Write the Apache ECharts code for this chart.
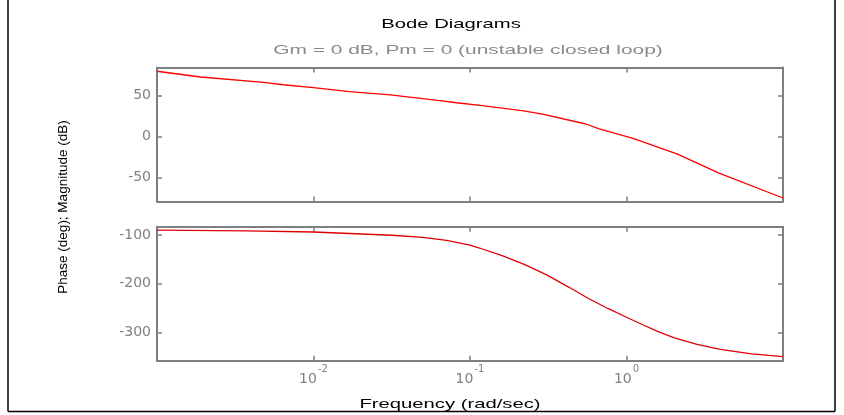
<!DOCTYPE html>
<html>
<head>
<meta charset="utf-8">
<script src="https://cdn.jsdelivr.net/npm/echarts@6/dist/echarts.min.js"></script>
<style>
html,body{margin:0;padding:0;background:#fff;}
#chart{width:844px;height:415px;}
</style>
</head>
<body>
<div id="chart"></div>
<script>
// Magnitude (dB) vs frequency (rad/sec)
const freqMag = [0.001, 0.0019, 0.0048, 0.0064, 0.01, 0.017, 0.031, 0.064, 0.082, 0.12, 0.22, 0.29, 0.55, 0.67, 1.1, 2.1, 3.9, 10];
const magDb   = [80, 73, 66.5, 63.5, 60, 55, 51, 44, 41.5, 38, 31.5, 27.5, 15.5, 9.5, -2, -21, -44.5, -75];
// Phase (deg) vs frequency (rad/sec)
const freqPhase = [0.001, 0.0037, 0.01, 0.0316, 0.05, 0.0708, 0.1, 0.115, 0.162, 0.224, 0.309, 0.427, 0.575, 0.759, 1.0, 1.26, 1.58, 2.0, 2.82, 3.98, 6.31, 10];
const phaseDeg  = [-90, -91.5, -93.8, -100.5, -104.8, -111, -121, -126.7, -143, -161, -182, -207, -231, -251, -269, -284, -298, -311, -325, -335, -344.5, -350];
// Tick values
const magTicks = [-50, 0, 50];
const phaseTicks = [-300, -200, -100];
const freqRange = [0.001, 10];
const magRange = [-79.3, 84.6];
const phaseRange = [-358.4, -82.9];

const titleText = 'Bode Diagrams';
const subtitleText = 'Gm = 0 dB, Pm = 0 (unstable closed loop)';
const xName = 'Frequency (rad/sec)';
const yName = 'Phase (deg); Magnitude (dB)';

const AX = '#7f7f7f';
const LBL = '#808080';

function xAxisDef(gridIndex, position, showLabels) {
  return {
    type: 'log', logBase: 10, gridIndex, position,
    min: freqRange[0], max: freqRange[1],
    axisLine: { show: true, onZero: false, lineStyle: { color: AX, width: 2 } },
    axisTick: { show: true, inside: true, length: 5, lineStyle: { color: AX, width: 1.5 } },
    minorTick: { show: false },
    splitLine: { show: false },
    axisLabel: showLabels ? {
      show: true, margin: 4, showMinLabel: false, showMaxLabel: false,
      formatter: function (v) {
        const e = Math.round(Math.log10(v));
        if (e <= -3 || e >= 1) return '';
        return '{b|10}{s|' + e + '}';
      },
      rich: {
        b: { fontSize: 14, fontFamily: 'DejaVu Sans', color: LBL, lineHeight: 22, verticalAlign: 'bottom' },
        s: { fontSize: 10, fontFamily: 'DejaVu Sans', color: LBL, verticalAlign: 'top', padding: [0, 0, 0, 1] }
      }
    } : { show: false }
  };
}
function yAxisDef(gridIndex, position, range, ticks, showLabels) {
  return {
    type: 'value', gridIndex, position,
    min: range[0], max: range[1],
    axisLine: { show: true, onZero: false, lineStyle: { color: AX, width: 2 } },
    axisTick: { show: true, inside: true, length: 5, customValues: ticks, lineStyle: { color: AX, width: 1.5 } },
    splitLine: { show: false },
    axisLabel: showLabels ? {
      show: true, margin: 6, customValues: ticks,
      fontSize: 14, fontFamily: 'DejaVu Sans', color: LBL
    } : { show: false }
  };
}

const chart = echarts.init(document.getElementById('chart'), null, { renderer: 'canvas' });
chart.setOption({
  animation: false,
  backgroundColor: '#ffffff',
  grid: [
    { left: 157, top: 67.5, width: 626, height: 134 },
    { left: 157, top: 226.7, width: 626, height: 134 }
  ],
  xAxis: [
    xAxisDef(0, 'bottom', false),
    xAxisDef(0, 'top', false),
    xAxisDef(1, 'bottom', true),
    xAxisDef(1, 'top', false)
  ],
  yAxis: [
    yAxisDef(0, 'left', magRange, magTicks, true),
    yAxisDef(0, 'right', magRange, magTicks, false),
    yAxisDef(1, 'left', phaseRange, phaseTicks, true),
    yAxisDef(1, 'right', phaseRange, phaseTicks, false)
  ],
  series: [
    {
      type: 'line', xAxisIndex: 0, yAxisIndex: 0, showSymbol: false, smooth: false,
      lineStyle: { color: '#ff0000', width: 1.3 },
      data: freqMag.map((f, i) => [f, magDb[i]])
    },
    {
      type: 'line', xAxisIndex: 2, yAxisIndex: 2, showSymbol: false, smooth: false,
      lineStyle: { color: '#e00000', width: 1.3 },
      data: freqPhase.map((f, i) => [f, phaseDeg[i]])
    }
  ],
  graphic: [
    { type: 'text', x: 451, y: 24, scaleX: 1.5,
      style: { text: titleText, fontSize: 13.5, fontFamily: 'Liberation Sans', fill: '#000', textAlign: 'center', textVerticalAlign: 'middle' } },
    { type: 'text', x: 468, y: 50, scaleX: 1.55,
      style: { text: subtitleText, fontSize: 13.5, fontFamily: 'Liberation Sans', fill: '#8a8a8a', textAlign: 'center', textVerticalAlign: 'middle' } },
    { type: 'text', x: 450, y: 404, scaleX: 1.5,
      style: { text: xName, fontSize: 13.5, fontFamily: 'Liberation Sans', fill: '#000', textAlign: 'center', textVerticalAlign: 'middle' } },
    { type: 'text', x: 63.5, y: 207, rotation: Math.PI / 2,
      style: { text: yName, fontSize: 13.5, fontFamily: 'Liberation Sans', fill: '#000', textAlign: 'center', textVerticalAlign: 'middle' } },
    { type: 'line', shape: { x1: 8, y1: 0, x2: 8, y2: 411.5 }, style: { stroke: '#000', lineWidth: 1.5 } },
    { type: 'line', shape: { x1: 8, y1: 411.5, x2: 835, y2: 411.5 }, style: { stroke: '#000', lineWidth: 1.5 } },
    { type: 'line', shape: { x1: 835, y1: 0, x2: 835, y2: 411.5 }, style: { stroke: '#000', lineWidth: 1.5 } }
  ]
});
</script>
</body>
</html>
